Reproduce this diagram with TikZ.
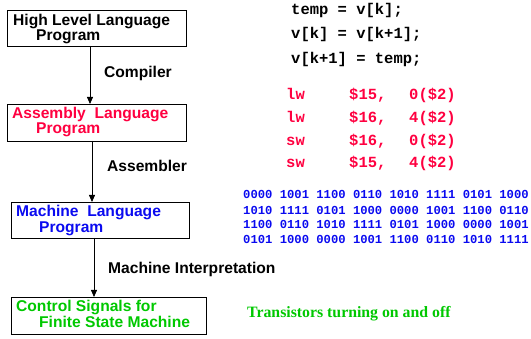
\documentclass[tikz,border=0pt]{standalone}
\usepackage{fontspec}
\setmainfont{Liberation Serif}
\setsansfont{Liberation Sans}
\setmonofont{Liberation Mono}
\usetikzlibrary{arrows.meta}
\definecolor{asmred}{RGB}{255,0,64}
\definecolor{mlblue}{RGB}{10,10,240}
\definecolor{sigreen}{RGB}{0,200,0}
\tikzset{
  box/.style={draw=black, line width=0.8pt, inner sep=0pt, anchor=north west},
  lbl/.style={inner sep=0pt, anchor=base west, font=\sffamily\bfseries\fontsize{15.6}{18}\selectfont},
  code/.style={inner sep=0pt, anchor=base west, font=\ttfamily\bfseries\fontsize{15.5}{18}\selectfont},
  bin/.style={inner sep=0pt, anchor=base west, text=mlblue, font=\ttfamily\bfseries\fontsize{12.2}{14}\selectfont},
  flow/.style={draw=black, line width=0.8pt, -{Triangle[length=7pt,width=6pt]}}
}
\begin{document}
\begin{tikzpicture}[x=1pt,y=-1pt]
\useasboundingbox (0,0) rectangle (531,339);
% boxes
\node[box, minimum width=179pt, minimum height=36pt] (b1) at (7,10) {};
\node[box, minimum width=179pt, minimum height=37pt] (b2) at (7,104) {};
\node[box, minimum width=178pt, minimum height=36pt] (b3) at (11,202) {};
\node[box, minimum width=195pt, minimum height=37pt] (b4) at (11,297) {};
% box texts
\node[lbl] (t1a) at (13,26) {High Level Language};
\node[lbl] (t1b) at (36,41) {Program};
\node[lbl, text=asmred] (t2a) at (12,119) {Assembly\ \ Language};
\node[lbl, text=asmred] (t2b) at (36,134) {Program};
\node[lbl, text=mlblue] (t3a) at (16,217) {Machine\ \ Language};
\node[lbl, text=mlblue] (t3b) at (39,233) {Program};
\node[lbl, text=sigreen] (t4a) at (16,312) {Control Signals for};
\node[lbl, text=sigreen] (t4b) at (39,328) {Finite State Machine};
% arrows
\coordinate (a1s) at (90,46); \coordinate (a1e) at (90,104);
\coordinate (a2s) at (92,141); \coordinate (a2e) at (92,202);
\coordinate (a3s) at (94,238); \coordinate (a3e) at (94,297);
\draw[flow] (a1s) -- (a1e);
\draw[flow] (a2s) -- (a2e);
\draw[flow] (a3s) -- (a3e);
% arrow labels
\node[lbl] (l1) at (104,78) {Compiler};
\node[lbl] (l2) at (107,172) {Assembler};
\node[lbl] (l3) at (108,274) {Machine Interpretation};
% high level code
\node[code] (c1) at (291,15) {temp = v[k];};
\node[code] (c2) at (291,39) {v[k] = v[k+1];};
\node[code] (c3) at (291,64) {v[k+1] = temp;};
% assembly
\node[code, text=asmred] (r1a) at (286,100) {lw};
\node[code, text=asmred] (r1b) at (349,100) {\$15,};
\node[code, text=asmred] (r1c) at (409,100) {0(\$2)};
\node[code, text=asmred] (r2a) at (286,123) {lw};
\node[code, text=asmred] (r2b) at (349,123) {\$16,};
\node[code, text=asmred] (r2c) at (409,123) {4(\$2)};
\node[code, text=asmred] (r3a) at (286,146) {sw};
\node[code, text=asmred] (r3b) at (349,146) {\$16,};
\node[code, text=asmred] (r3c) at (409,146) {0(\$2)};
\node[code, text=asmred] (r4a) at (286,168) {sw};
\node[code, text=asmred] (r4b) at (349,168) {\$15,};
\node[code, text=asmred] (r4c) at (409,168) {4(\$2)};
% binary
\node[bin] (m1) at (243,199) {0000 1001 1100 0110 1010 1111 0101 1000};
\node[bin] (m2) at (243,215) {1010 1111 0101 1000 0000 1001 1100 0110};
\node[bin] (m3) at (243,229) {1100 0110 1010 1111 0101 1000 0000 1001};
\node[bin] (m4) at (243,244) {0101 1000 0000 1001 1100 0110 1010 1111};
% transistors
\node[inner sep=0pt, anchor=base west, text=sigreen, font=\rmfamily\bfseries\fontsize{15.8}{18}\selectfont] (tr) at (247,318) {Transistors turning on and off};
\end{tikzpicture}
\end{document}
